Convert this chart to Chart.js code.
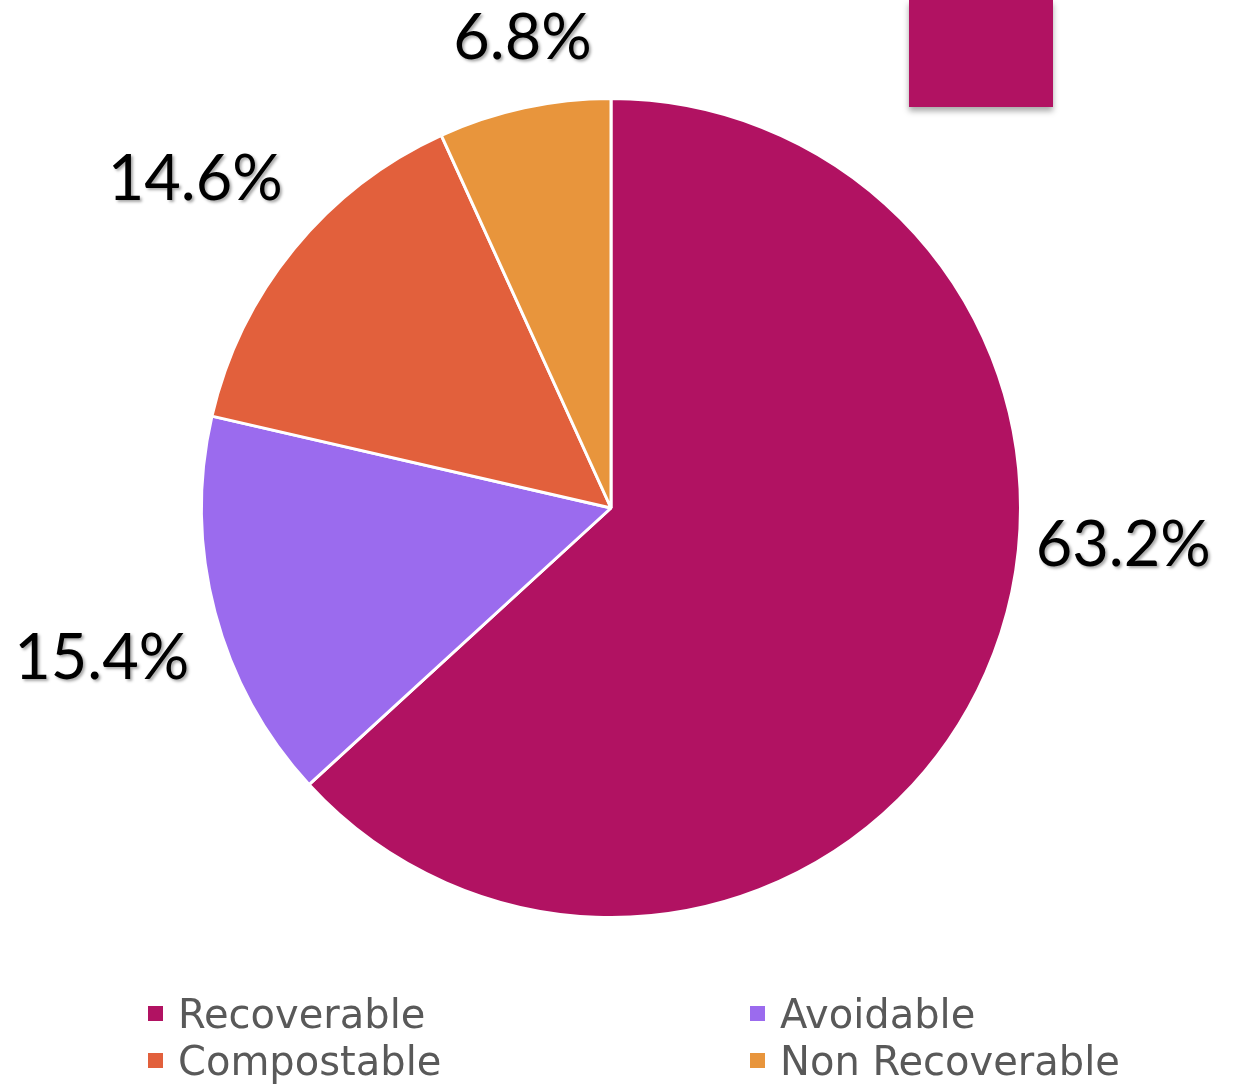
<!DOCTYPE html>
<html>
<head>
<meta charset="utf-8">
<script src="https://cdn.jsdelivr.net/npm/chart.js@4/dist/chart.umd.min.js"></script>
<style>
  html, body { margin: 0; padding: 0; background: #fff; }
  #wrap { position: relative; width: 1234px; height: 1084px; overflow: hidden; }
  #myChart { position: absolute; left: 0; top: 0; }
  #tag { position: absolute; left: 909px; top: 0; width: 144px; height: 107px;
         background: #B11262; box-shadow: 0 4px 6px rgba(0,0,0,0.35); }
  #legend { position: absolute; left: 148px; top: 990px; width: 1086px;
            display: grid; grid-template-columns: 602px 480px; grid-auto-rows: 47px;
            font-family: "DejaVu Sans", sans-serif; font-size: 40px; color: #595959; }
  #legend div { display: flex; align-items: center; white-space: nowrap; }
  #legend span.box { display: inline-block; width: 15px; height: 15px; margin-right: 15px; }
</style>
</head>
<body>
<div id="wrap">
  <canvas id="myChart" width="1234" height="1084"></canvas>
  <div id="tag"></div>
  <div id="legend"></div>
</div>
<script>
const categories = ['Recoverable', 'Avoidable', 'Compostable', 'Non Recoverable'];
const shares = [63.2, 15.4, 14.6, 6.8];
const colours = ['#B11262', '#9B6BEE', '#E2603C', '#E8953C'];

// percent labels outside the pie, placed along each slice's mid angle
const outsideLabels = {
  id: 'outsideLabels',
  afterDatasetsDraw(chart, args, opts) {
    const ctx = chart.ctx;
    const meta = chart.getDatasetMeta(0);
    ctx.save();
    ctx.font = opts.size + 'px ' + opts.family;
    ctx.fillStyle = '#000';
    ctx.textAlign = 'center';
    ctx.textBaseline = 'alphabetic';
    ctx.shadowColor = 'rgba(0,0,0,0.35)';
    ctx.shadowOffsetX = 2;
    ctx.shadowOffsetY = 2;
    ctx.shadowBlur = 3;
    meta.data.forEach((arc, i) => {
      const p = arc.getProps(['x', 'y', 'startAngle', 'endAngle', 'outerRadius'], true);
      const a = (p.startAngle + p.endAngle) / 2 + opts.shift[i] * Math.PI / 180;
      const r = p.outerRadius + opts.gap[i];
      const x = p.x + Math.cos(a) * r;
      const y = p.y + Math.sin(a) * r;
      ctx.fillText(shares[i].toFixed(1) + '%', x, y + opts.size * 0.36);
    });
    ctx.restore();
  }
};

const ctx = document.getElementById('myChart').getContext('2d');
const myChart = new Chart(ctx, {
  type: 'pie',
  data: {
    labels: categories,
    datasets: [{
      data: shares,
      backgroundColor: colours,
      borderColor: '#fff',
      borderWidth: 3
    }]
  },
  options: {
    responsive: false,
    animation: false,
    layout: { padding: { top: 97, left: 200, right: 212, bottom: 165 } },
    plugins: {
      legend: { display: false },
      tooltip: { enabled: false },
      outsideLabels: {
        family: 'Lato, sans-serif',
        size: 63,
        shift: [-19.8, -1.5, -0.7, 1.6],
        gap: [104, 121, 122, 70]
      }
    }
  },
  plugins: [outsideLabels]
});

// two-column legend under the pie
const legend = document.getElementById('legend');
categories.forEach((name, i) => {
  const item = document.createElement('div');
  item.innerHTML = '<span class="box" style="background:' + colours[i] + '"></span>' + name;
  legend.appendChild(item);
});
</script>
</body>
</html>
